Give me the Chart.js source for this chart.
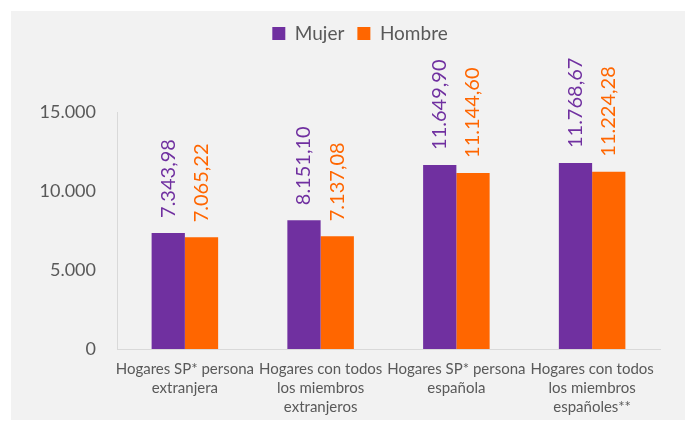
<!DOCTYPE html>
<html>
<head>
<meta charset="utf-8">
<script src="https://cdn.jsdelivr.net/npm/chart.js@4"></script>
<style>
  html, body { margin: 0; padding: 0; background: #ffffff; }
  #wrap { width: 694px; height: 425px; }
</style>
</head>
<body>
<div id="wrap"><canvas id="hogaresChart" width="694" height="425"></canvas></div>
<script>
// categorias y valores
const categories = [
  ["Hogares SP* persona", "extranjera"],
  ["Hogares con todos", "los miembros", "extranjeros"],
  ["Hogares SP* persona", "española"],
  ["Hogares con todos", "los miembros", "españoles**"],
];
const mujerValues = [7343.98, 8151.10, 11649.90, 11768.67];
const hombreValues = [7065.22, 7137.08, 11144.60, 11224.28];
const yTicks = [0, 5000, 10000, 15000];

const PURPLE = "#7030a0";
const ORANGE = "#ff6600";
const TEXT = "#595959";
const FONT = "Lato, 'Liberation Sans', sans-serif";

// formato español: 11.649,90
function formatEs(v, decimals) {
  const parts = v.toFixed(decimals).split(".");
  const ent = parts[0].replace(/\B(?=(\d{3})+(?!\d))/g, ".");
  return parts.length > 1 ? ent + "," + parts[1] : ent;
}

// fondo gris del panel
const panelBg = {
  id: "panelBg",
  beforeDraw(chart) {
    const ctx = chart.ctx;
    ctx.save();
    ctx.fillStyle = "#f2f2f2";
    ctx.fillRect(11, 11, 674, 409);
    ctx.restore();
  },
};

// etiquetas verticales encima de las barras
const barLabels = {
  id: "barLabels",
  afterDatasetsDraw(chart) {
    const ctx = chart.ctx;
    chart.data.datasets.forEach((ds, i) => {
      const meta = chart.getDatasetMeta(i);
      meta.data.forEach((bar, j) => {
        ctx.save();
        ctx.translate(bar.x, bar.y - 15);
        ctx.rotate(-Math.PI / 2);
        ctx.font = "20px " + FONT;
        ctx.fillStyle = ds.backgroundColor;
        ctx.textAlign = "left";
        ctx.textBaseline = "middle";
        ctx.fillText(formatEs(ds.data[j], 2), 0, 0);
        ctx.restore();
      });
    });
  },
};

// mas espacio debajo de la leyenda, y leyenda un poco a la derecha
const legendSpace = {
  id: "legendSpace",
  beforeInit(chart) {
    const origFit = chart.legend.fit;
    chart.legend.fit = function () {
      origFit.bind(chart.legend)();
      this.height = 101;
    };
  },
  afterLayout(chart) {
    chart.legend.left += 30;
    chart.legend.right += 30;
  },
};

const ctx = document.getElementById("hogaresChart");

new Chart(ctx, {
  type: "bar",
  data: {
    labels: categories,
    datasets: [
      {
        label: "Mujer",
        data: mujerValues,
        backgroundColor: PURPLE,
        barPercentage: 1,
        categoryPercentage: 0.49,
      },
      {
        label: "Hombre",
        data: hombreValues,
        backgroundColor: ORANGE,
        barPercentage: 1,
        categoryPercentage: 0.49,
      },
    ],
  },
  options: {
    responsive: false,
    animation: false,
    layout: { padding: { top: 11, left: 0, right: 34, bottom: 0 } },
    plugins: {
      legend: {
        display: true,
        position: "top",
        labels: {
          boxWidth: 13,
          boxHeight: 13,
          padding: 13,
          color: TEXT,
          font: { family: FONT, size: 19 },
        },
      },
      tooltip: { enabled: false },
    },
    scales: {
      x: {
        grid: { display: false, drawTicks: false },
        border: { color: "#d9d9d9", width: 1 },
        ticks: {
          color: TEXT,
          font: { family: FONT, size: 15, lineHeight: 1.25 },
          padding: 11,
          maxRotation: 0,
          autoSkip: false,
        },
        afterFit(scale) {
          scale.height = 76;
        },
      },
      y: {
        min: 0,
        max: 15000,
        afterBuildTicks(scale) {
          scale.ticks = yTicks.map((v) => ({ value: v }));
        },
        grid: { display: false, drawTicks: false },
        border: { color: "#d9d9d9", width: 1 },
        ticks: {
          color: TEXT,
          font: { family: FONT, size: 18 },
          padding: 21,
          callback: (v) => formatEs(v, 0),
        },
        afterFit(scale) {
          scale.width = 117;
        },
      },
    },
  },
  plugins: [panelBg, barLabels, legendSpace],
});
</script>
</body>
</html>
